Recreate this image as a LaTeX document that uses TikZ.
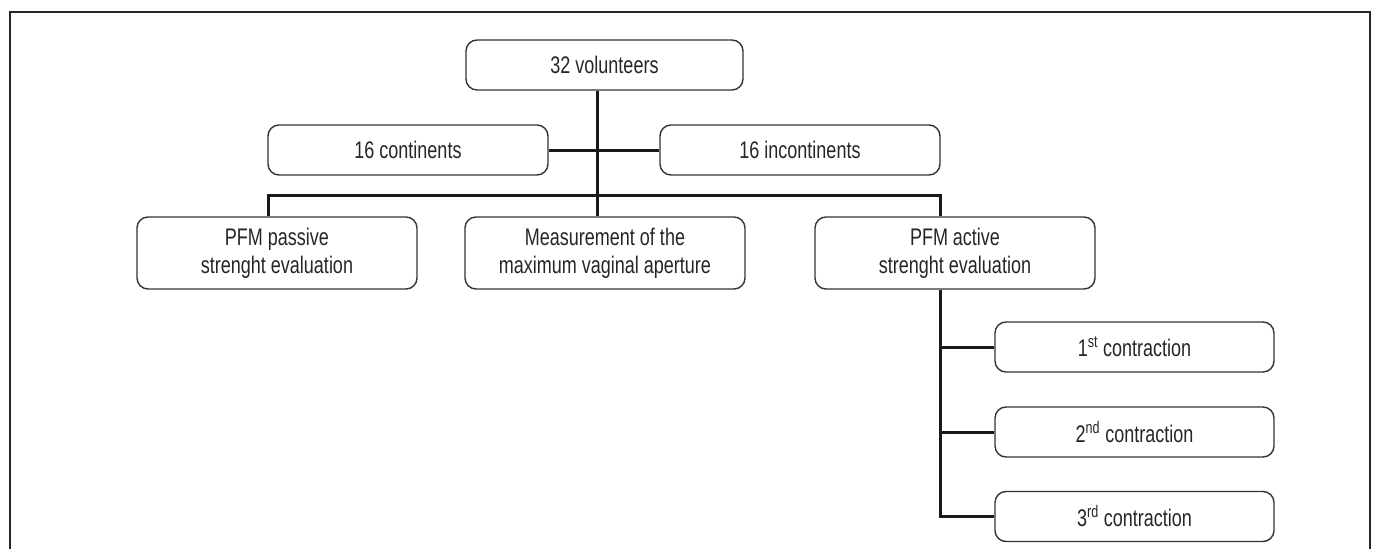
\documentclass[tikz,border=0pt]{standalone}
\usepackage{fontspec}
\setmainfont[FakeStretch=0.75]{Liberation Sans}
\begin{document}
\begin{tikzpicture}[x=1pt,y=-1pt,
  box/.style={draw=black!80, line width=1.4pt, rounded corners=11pt, fill=white,
    text=black!85, inner sep=0pt, align=center,
    font=\fontsize{24}{28}\selectfont},
  conn/.style={draw=black!90, line width=3pt}]
\useasboundingbox (0,0) rectangle (1376,549);
% frame
\draw[black!85, line width=1.5pt] (10,549) -- (10,12) -- (1370,12) -- (1370,549);
% nodes
\node[box, minimum width=277pt, minimum height=50pt] (vol) at (604.5,65) {32 volunteers};
\node[box, minimum width=280pt, minimum height=50pt] (cont) at (408,150) {16 continents};
\node[box, minimum width=280pt, minimum height=50pt] (incont) at (800,150) {16 incontinents};
\node[box, minimum width=280pt, minimum height=72pt] (pass) at (277,253) {PFM passive\\strenght evaluation};
\node[box, minimum width=280pt, minimum height=72pt] (meas) at (605,253) {Measurement of the\\maximum vaginal aperture};
\node[box, minimum width=280pt, minimum height=72pt] (act) at (955,253) {PFM active\\strenght evaluation};
\node[box, minimum width=279pt, minimum height=50pt] (c1) at (1134.5,347) {1\textsuperscript{st} contraction};
\node[box, minimum width=279pt, minimum height=50pt] (c2) at (1134.5,432) {2\textsuperscript{nd} contraction};
\node[box, minimum width=279pt, minimum height=50pt] (c3) at (1134.5,516.5) {3\textsuperscript{rd} contraction};
% connector coordinates
\coordinate (top) at (597,90);
\coordinate (bl) at (268,195);
\coordinate (br) at (940,195);
\coordinate (s1) at (940,347);
\coordinate (s2) at (940,432);
\coordinate (s3) at (940,516.5);
% connectors
\draw[conn] (vol.south -| top) -- (meas.north -| top);
\draw[conn] (cont.east) -- (incont.west);
\draw[conn] (pass.north -| bl) -- (bl) -- (br) -- (act.north -| br);
\draw[conn] (act.south -| br) -- (s3) -- (c3.west);
\draw[conn] (s1) -- (c1.west);
\draw[conn] (s2) -- (c2.west);
\end{tikzpicture}
\end{document}
